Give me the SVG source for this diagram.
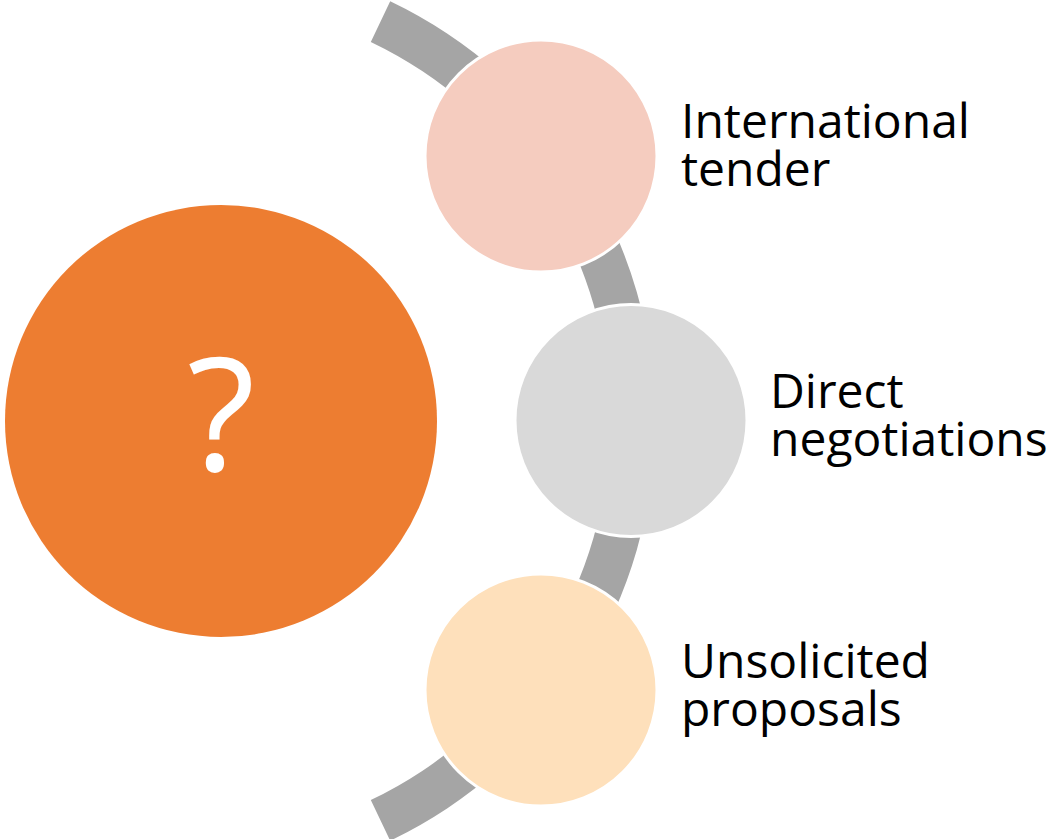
<svg xmlns="http://www.w3.org/2000/svg" width="1056" height="839" viewBox="0 0 1056 839">
  <style>
    .lbl { font-family: "Open Sans", "Noto Sans", "Liberation Sans", sans-serif; font-size: 48px; fill: #000000; }
    .node { stroke: #FFFFFF; stroke-width: 3; }
  </style>
  <rect width="1056" height="839" fill="#FFFFFF"/>
  <g id="connectors">
    <path d="M390.2,1.3 A465,465 0 0,1 390.2,840.7 L370.8,800.1 A420,420 0 0,0 370.8,41.9 Z" fill="#A5A5A5"/>
  </g>
  <g id="node-question">
    <circle cx="221" cy="421" r="216" fill="#ED7D31"/>
    <text x="221" y="471" text-anchor="middle" font-family="Open Sans, Noto Sans, sans-serif" font-size="158" fill="#FFFFFF">?</text>
  </g>
  <g id="node-international">
    <circle class="node" cx="541" cy="156" r="116" fill="#F5CCBF"/>
    <text class="lbl" x="681" y="138">International<tspan x="681" y="186">tender</tspan></text>
  </g>
  <g id="node-direct">
    <circle class="node" cx="631" cy="420.5" r="116" fill="#D9D9D9"/>
    <text class="lbl" x="770" y="408">Direct<tspan x="770" y="456">negotiations</tspan></text>
  </g>
  <g id="node-unsolicited">
    <circle class="node" cx="541" cy="690" r="116" fill="#FEE0BB"/>
    <text class="lbl" x="681" y="678">Unsolicited<tspan x="681" y="726">proposals</tspan></text>
  </g>
</svg>
